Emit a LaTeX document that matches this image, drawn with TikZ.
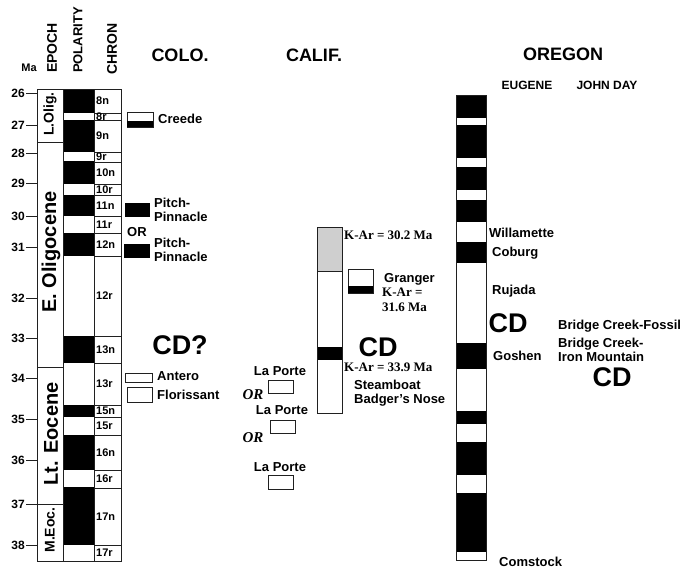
\documentclass[tikz,border=0pt]{standalone}
\usepackage{fontspec}
\setmainfont{Liberation Sans}
\newfontfamily\tnr{Liberation Serif}
\usepackage{tikz}
\definecolor{ChartLine}{HTML}{202020}
\definecolor{ChartDots}{HTML}{CFCFCF}
\tikzset{
  lbl/.style={font=\fontsize{13}{14}\selectfont\bfseries, inner sep=0pt, align=left},
  ttl/.style={font=\fontsize{18}{20}\selectfont\bfseries, inner sep=0pt},
  bigcd/.style={font=\fontsize{27}{28}\selectfont\bfseries, inner sep=0pt},
  kar/.style={font=\tnr\fontsize{13}{15}\selectfont\bfseries, inner sep=0pt, align=left},
  orit/.style={font=\tnr\fontsize{15}{16}\selectfont\bfseries\itshape, inner sep=0pt},
  chr/.style={font=\fontsize{11}{12}\selectfont\bfseries, inner sep=0pt, anchor=west},
  hdr/.style={font=\fontsize{14}{14}\selectfont\bfseries, rotate=90, anchor=west, inner sep=0pt},
  epo/.style={font=\fontsize{14}{14}\selectfont\bfseries, rotate=90, inner sep=0pt},
  num/.style={font=\fontsize{12}{12}\selectfont\bfseries, anchor=east, inner sep=0pt},
  box/.style={draw=ChartLine, line width=0.9pt}
}
\begin{document}
\begin{tikzpicture}[x=1pt, y=-1pt]
  \useasboundingbox[fill=white] (0,0) rectangle (688,572);

  \node[font=\fontsize{11}{11}\selectfont\bfseries, inner sep=0pt] (ma) at (29,68) {Ma};
  \node[hdr] (hEpoch) at (52,73) {EPOCH};
  \node[hdr, font=\fontsize{13}{13}\selectfont\bfseries] (hPolarity) at (78,73) {POLARITY};
  \node[hdr] (hChron) at (112,75) {CHRON};

  \foreach \m/\y in {26/93, 27/125, 28/153, 29/183, 30/216, 31/247, 32/298, 33/338, 34/378, 35/419, 36/460, 37/504, 38/545} {
    \draw[box] (26,\y) -- (37,\y);
    \node[num] (m\m) at (25,\y) {\m};
  }

  \foreach \t/\b in {89/142, 142/367, 367/504, 504/561}
    \draw[box] (37,\t) rectangle (63,\b);
  \node[epo] (eLOlig) at (50,114) {L.Olig.};
  \node[epo, font=\fontsize{20}{20}\selectfont\bfseries] (eEOlig) at (51,252) {E. Oligocene};
  \node[epo, font=\fontsize{20}{20}\selectfont\bfseries] (eLtEoc) at (51,434) {Lt. Eocene};
  \node[epo] (eMEoc) at (50,530) {M.Eoc.};

  \foreach \t/\b in {89/113, 120/152, 161/184, 195/216, 233/256, 336/363, 405/417, 435/470, 487/545}
    \fill (63,\t) rectangle (94,\b);
  \draw[box] (63,89) rectangle (94,561);

  \foreach \t/\b/\c in {89/113/8n, 113/120/8r, 120/152/9n, 152/162/9r, 162/184/10n, 184/195/10r, 195/216/11n, 216/233/11r, 233/256/12n, 256/336/12r, 336/363/13n, 363/405/13r, 405/417/15n, 417/435/15r, 435/470/16n, 470/488/16r, 488/545/17n, 545/561/17r} {
    \draw[box] (94,\t) rectangle (121,\b);
    \node[chr] (c\c) at (96,{(\t+\b)/2}) {\c};
  }

  \node[ttl] (colo) at (180,55) {COLO.};
  \draw[box] (127,112) rectangle (153,127);
  \fill (127,121) rectangle (153,127);
  \node[lbl, anchor=west] (creede) at (158,119) {Creede};
  \fill (125,203) rectangle (150,217);
  \node[lbl, anchor=west] (pitchA) at (154,210) {Pitch-\\Pinnacle};
  \node[lbl, anchor=west] (coloOr) at (127,232) {OR};
  \fill (124,244) rectangle (150,258);
  \node[lbl, anchor=west] (pitchB) at (154,250) {Pitch-\\Pinnacle};
  \node[bigcd] (cdColo) at (180,345) {CD?};
  \draw[box] (125,373) rectangle (152,382);
  \node[lbl, anchor=west] (antero) at (157,376) {Antero};
  \draw[box] (127,387) rectangle (152,402);
  \node[lbl, anchor=west] (floris) at (157,395) {Florissant};

  \node[ttl] (calif) at (314,55) {CALIF.};
  \fill[ChartDots] (317,227) rectangle (342,271);
  \fill (317,347) rectangle (342,360);
  \draw[box] (317,227) rectangle (342,413);
  \draw[box] (317,271) -- (342,271);
  \node[kar, anchor=west] (karA) at (344,235) {K-Ar = 30.2 Ma};
  \draw[box] (348,269) rectangle (373,293);
  \fill (348,286) rectangle (373,293);
  \node[lbl, anchor=west] (granger) at (384,279) {Granger};
  \node[kar, anchor=west] (karB) at (382,300) {K-Ar =\\31.6 Ma};
  \node[bigcd] (cdCalif) at (378,347) {CD};
  \node[kar, anchor=west] (karC) at (344,367) {K-Ar = 33.9 Ma};
  \node[lbl, anchor=west] (steam) at (354,393) {Steamboat\\Badger's Nose};
  \node[lbl] (porteA) at (280,371) {La Porte};
  \draw[box] (268,380) rectangle (293,393);
  \node[orit] (orA) at (253,395) {OR};
  \node[lbl] (porteB) at (282,410) {La Porte};
  \draw[box] (270,420) rectangle (295,433);
  \node[orit] (orB) at (253,438) {OR};
  \node[lbl] (porteC) at (280,467) {La Porte};
  \draw[box] (268,475) rectangle (293,489);

  \node[ttl] (oregon) at (563,54) {OREGON};
  \node[font=\fontsize{12}{12}\selectfont\bfseries, inner sep=0pt] (eugene) at (527,85) {EUGENE};
  \node[font=\fontsize{12}{12}\selectfont\bfseries, inner sep=0pt] (johnday) at (607,85) {JOHN DAY};
  \foreach \t/\b in {95/118, 125/158, 167/190, 200/222, 242/263, 343/369, 411/424, 442/475, 493/552}
    \fill (456,\t) rectangle (486,\b);
  \draw[box] (456,95) rectangle (486,560);
  \node[lbl, anchor=west] (willa) at (489,233) {Willamette};
  \node[lbl, anchor=west] (coburg) at (492,253) {Coburg};
  \node[lbl, anchor=west] (rujada) at (492,291) {Rujada};
  \node[bigcd] (cdEugene) at (508,323) {CD};
  \node[lbl, anchor=west] (bcFossil) at (558,326) {Bridge Creek-Fossil};
  \node[lbl, anchor=west] (bcIron) at (558,350) {Bridge Creek-\\Iron Mountain};
  \node[lbl, anchor=west] (goshen) at (493,356) {Goshen};
  \node[bigcd] (cdJohn) at (612,377) {CD};
  \node[lbl, anchor=west] (comstock) at (499,562) {Comstock};
\end{tikzpicture}
\end{document}
